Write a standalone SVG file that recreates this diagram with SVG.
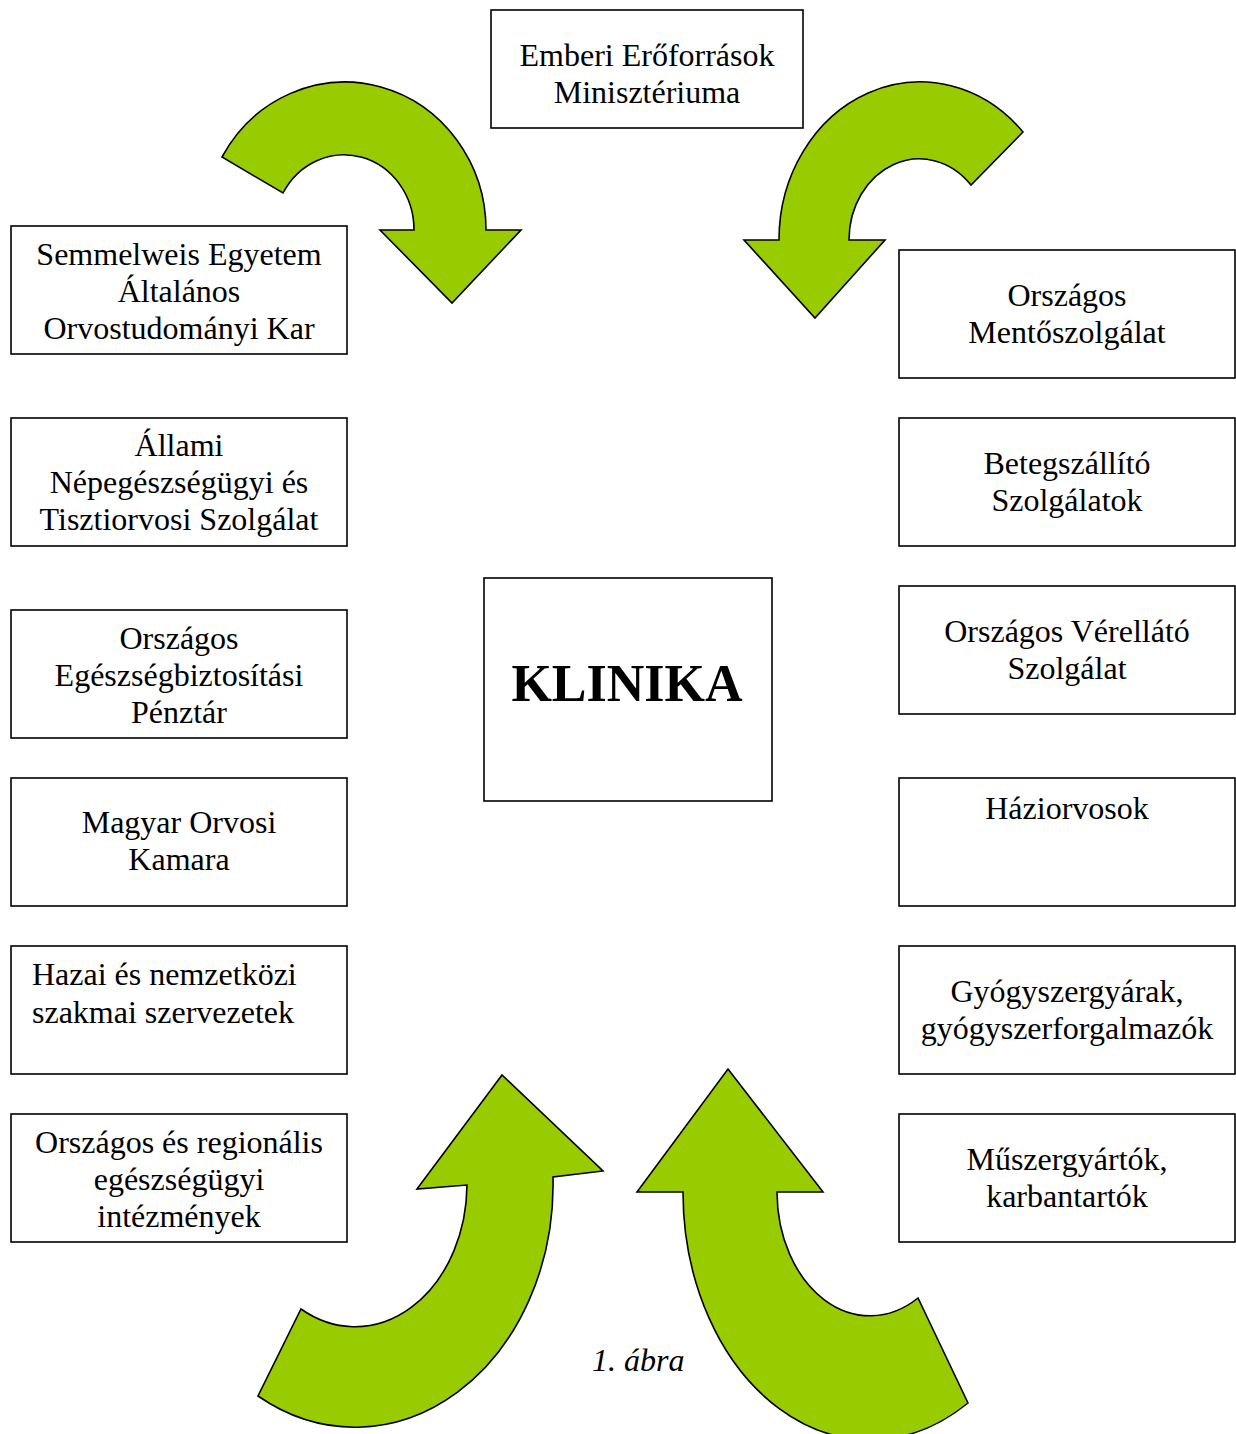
<svg xmlns="http://www.w3.org/2000/svg" width="1236" height="1434" viewBox="0 0 1236 1434">
<style>
.box{fill:#fff;stroke:#000;stroke-width:1.6}
.arr{fill:#99CC00;stroke:#000;stroke-width:1.6;stroke-linejoin:miter}
text{font-family:"Liberation Serif","Times New Roman",serif;font-size:32px;fill:#000}
.c{text-anchor:middle}
.big{font-size:52px;font-weight:bold}
.cap{font-style:italic}
</style>
<rect width="1236" height="1434" fill="#fff"/>
<g id="connectors">
<path id="arrow-tl" class="arr" d="M222,157 A141.2,148 0 0 1 486,230 L521,230 L452,303 L380,230 L414,230 A70,75 0 0 0 283,193 Z"/>
<path id="arrow-tr" class="arr" d="M1023,132 A141,158 0 0 0 779,240 L744,240 L815,318 L885,240 L849,240 A70.3,81 0 0 1 971,185 Z"/>
<path id="arrow-bl" class="arr" d="M417,1189 L502,1075 L603,1171 L553,1177 A198,243 0 0 1 258,1396 L301,1309 A112,143 0 0 0 467,1185 Z"/>
<path id="arrow-br" class="arr" d="M683,1192 L637,1192 L728,1069 L823,1192 L777,1192 A93,124 0 0 0 918,1298 L968,1403 A187,248 0 0 1 683,1192 Z"/>
</g>
<g id="n-emmi"><rect class="box" x="491" y="10" width="312" height="118"/><text class="c" x="647" y="66">Emberi Erőforrások</text><text class="c" x="647" y="103">Minisztériuma</text></g>
<g id="n-klinika"><rect class="box" x="484" y="578" width="288" height="223"/><text class="c big" x="627" y="701">KLINIKA</text></g>
<g id="n-se"><rect class="box" x="11" y="226" width="336" height="128"/><text class="c" x="179" y="265">Semmelweis Egyetem</text><text class="c" x="179" y="302">Általános</text><text class="c" x="179" y="339">Orvostudományi Kar</text></g>
<g id="n-antsz"><rect class="box" x="11" y="418" width="336" height="128"/><text class="c" x="179" y="456">Állami</text><text class="c" x="179" y="493">Népegészségügyi és</text><text class="c" x="179" y="530">Tisztiorvosi Szolgálat</text></g>
<g id="n-oep"><rect class="box" x="11" y="610" width="336" height="128"/><text class="c" x="179" y="649">Országos</text><text class="c" x="179" y="686">Egészségbiztosítási</text><text class="c" x="179" y="723">Pénztár</text></g>
<g id="n-mok"><rect class="box" x="11" y="778" width="336" height="128"/><text class="c" x="179" y="833">Magyar Orvosi</text><text class="c" x="179" y="870">Kamara</text></g>
<g id="n-hazai"><rect class="box" x="11" y="946" width="336" height="128"/><text x="32" y="985">Hazai és nemzetközi</text><text x="32" y="1023">szakmai szervezetek</text></g>
<g id="n-intezmenyek"><rect class="box" x="11" y="1114" width="336" height="128"/><text class="c" x="179" y="1153">Országos és regionális</text><text class="c" x="179" y="1190">egészségügyi</text><text class="c" x="179" y="1227">intézmények</text></g>
<g id="n-omsz"><rect class="box" x="899" y="250" width="336" height="128"/><text class="c" x="1067" y="306">Országos</text><text class="c" x="1067" y="343">Mentőszolgálat</text></g>
<g id="n-beteg"><rect class="box" x="899" y="418" width="336" height="128"/><text class="c" x="1067" y="474">Betegszállító</text><text class="c" x="1067" y="511">Szolgálatok</text></g>
<g id="n-ovsz"><rect class="box" x="899" y="586" width="336" height="128"/><text class="c" x="1067" y="642">Országos Vérellátó</text><text class="c" x="1067" y="679">Szolgálat</text></g>
<g id="n-hazi"><rect class="box" x="899" y="778" width="336" height="128"/><text class="c" x="1067" y="819">Háziorvosok</text></g>
<g id="n-gyogy"><rect class="box" x="899" y="946" width="336" height="128"/><text class="c" x="1067" y="1002">Gyógyszergyárak,</text><text class="c" x="1067" y="1039">gyógyszerforgalmazók</text></g>
<g id="n-muszer"><rect class="box" x="899" y="1114" width="336" height="128"/><text class="c" x="1067" y="1170">Műszergyártók,</text><text class="c" x="1067" y="1207">karbantartók</text></g>
<text class="cap" x="592" y="1371">1. ábra</text>
</svg>
